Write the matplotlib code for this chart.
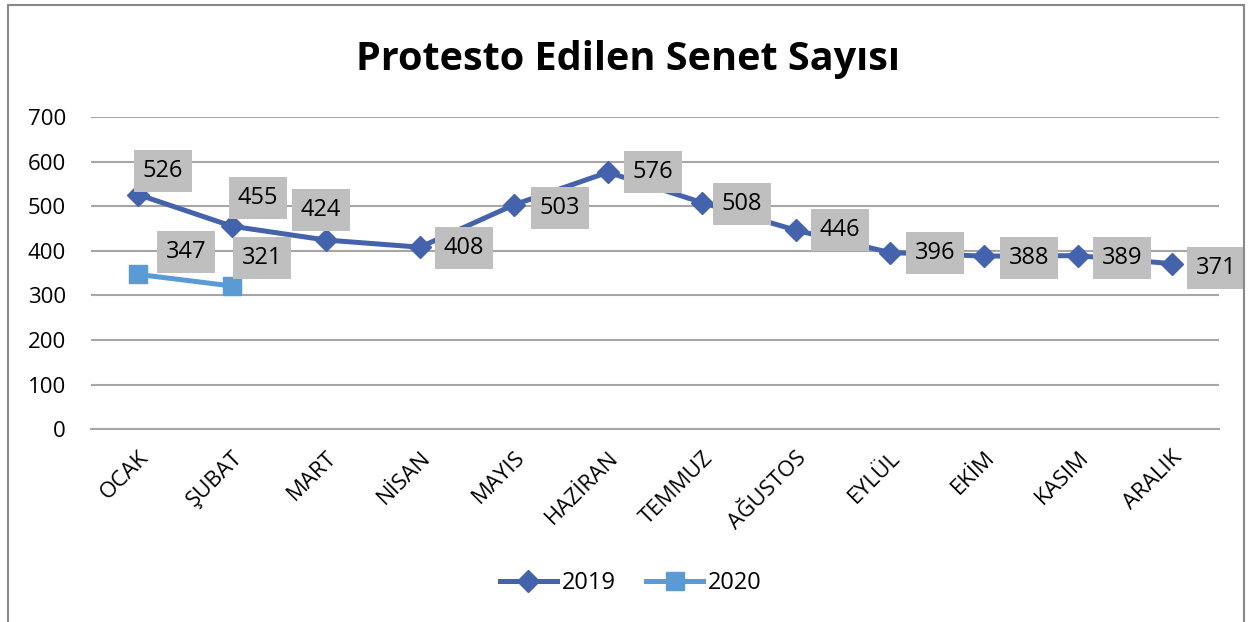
import matplotlib.pyplot as plt
from matplotlib.patches import Rectangle

plt.rcParams['font.family'] = ['Open Sans', 'DejaVu Sans']

aylar = ["OCAK", "ŞUBAT", "MART", "NİSAN", "MAYIS", "HAZİRAN", "TEMMUZ",
         "AĞUSTOS", "EYLÜL", "EKİM", "KASIM", "ARALIK"]
senet_2019 = [526, 455, 424, 408, 503, 576, 508, 446, 396, 388, 389, 371]
senet_2020 = [347, 321]

# etiket kaymalari (piksel)
ofset_2019 = [(25, 24), (26, 28), (-5, 30), (44, -1), (46, -3), (45, 0),
              (40, -1), (44, 0), (45, 0), (45, -2), (44, -2), (44, -4)]
ofset_2020 = [(48, 22), (30, 28)]

fig = plt.figure(figsize=(12.49, 6.22), dpi=100)
ax = fig.add_axes([0.0729, 0.310, 0.903, 0.502])

x = range(len(aylar))
ax.plot(x, senet_2019, color="#4563AC", lw=3.6, marker="D", ms=11,
        label="2019", zorder=3)
ax.plot(range(len(senet_2020)), senet_2020, color="#5B9BD5", lw=3.6,
        marker="s", ms=13, label="2020", zorder=3)

def etiketle(degerler, ofsetler):
    for i, (v, (dx, dy)) in enumerate(zip(degerler, ofsetler)):
        ax.annotate(str(v), (i, v), xytext=(dx * 0.72, dy * 0.72),
                    textcoords="offset points", ha="center", va="center",
                    fontsize=17, zorder=4,
                    bbox=dict(boxstyle="square,pad=0.38", fc="#BFBFBF", ec="none"))

etiketle(senet_2019, ofset_2019)
etiketle(senet_2020, ofset_2020)

ax.set_xlim(-0.5, len(aylar) - 0.5)
ax.set_ylim(0, 700)
ax.set_yticks(range(0, 701, 100))
ax.grid(axis="y", color="#A6A6A6", lw=1.5)
ax.set_axisbelow(True)
for s in ["left", "right", "top"]:
    ax.spines[s].set_visible(False)
ax.spines["bottom"].set_color("#A6A6A6")
ax.spines["bottom"].set_linewidth(1.5)
ax.tick_params(axis="both", length=0, labelsize=16)
ax.tick_params(axis="y", pad=18)
ax.tick_params(axis="x", pad=13)
ax.set_xticks(list(x))
ax.set_xticklabels(aylar, rotation=45, ha="right", rotation_mode="anchor")

fig.text(0.503, 0.905, "Protesto Edilen Senet Sayısı", ha="center", va="center",
         fontsize=28.5, fontweight="bold")

fig.legend(loc="center", bbox_to_anchor=(0.505, 0.062), ncol=2, frameon=False,
           fontsize=17, handlelength=2.4, columnspacing=1.3, handletextpad=0.2)

fig.patches.append(Rectangle((8 / 1249, -0.05), 1236 / 1249, 1.05 - 5 / 622,
                             transform=fig.transFigure, fill=False,
                             ec="#898989", lw=1.5))

fig.savefig("out.png", dpi=100)
